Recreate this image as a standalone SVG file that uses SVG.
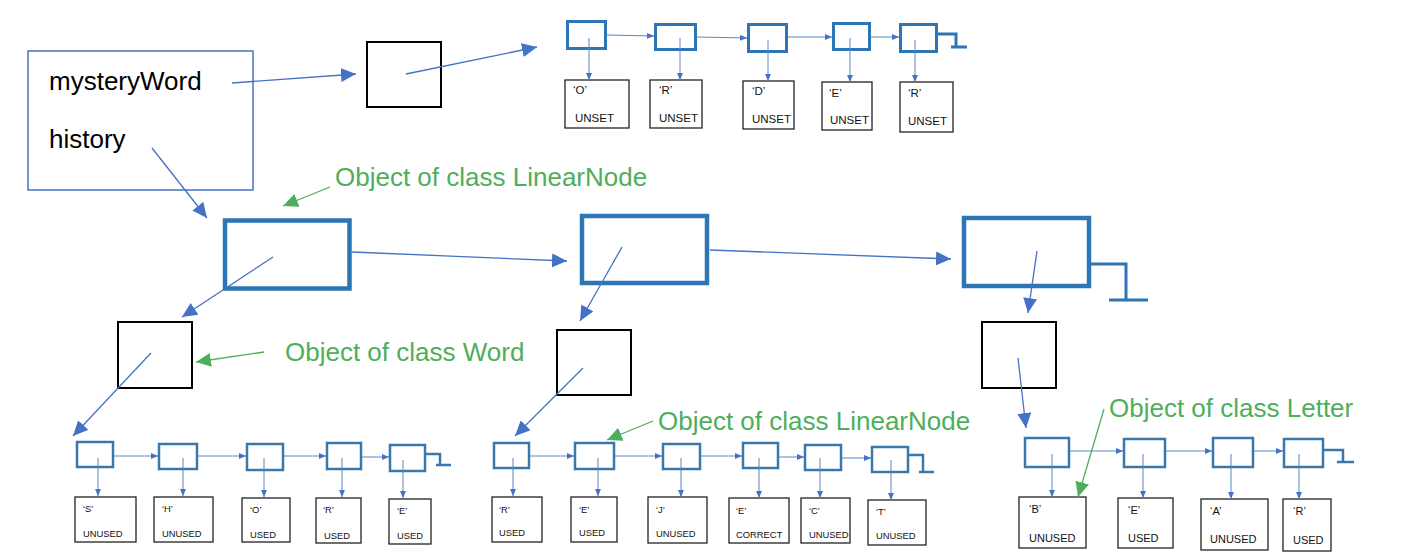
<svg xmlns="http://www.w3.org/2000/svg" width="1416" height="560" viewBox="0 0 1416 560">
<defs>
<marker id="bigB" markerUnits="userSpaceOnUse" markerWidth="16" markerHeight="15" refX="15" refY="7" orient="auto"><path d="M0,0 L15,7 L0,14 z" fill="#4472C4"/></marker>
<marker id="bigG" markerUnits="userSpaceOnUse" markerWidth="16" markerHeight="15" refX="15" refY="7" orient="auto"><path d="M0,0 L15,7 L0,14 z" fill="#4EAE5B"/></marker>
<marker id="smB" markerUnits="userSpaceOnUse" markerWidth="8" markerHeight="7" refX="7" refY="3" orient="auto"><path d="M0,0 L7,3 L0,6 z" fill="#4472C4"/></marker>
</defs>
<style>
.big{font-family:"Liberation Sans",Arial,sans-serif;font-size:26px;fill:#000}
.lbl{font-family:"Liberation Sans",Arial,sans-serif;font-size:26px;fill:#4EAE5B}
.t1{font-family:"Liberation Sans",Arial,sans-serif;font-size:11.5px;fill:#111}
.t2{font-family:"Liberation Sans",Arial,sans-serif;font-size:9.4px;fill:#111}
.t3{font-family:"Liberation Sans",Arial,sans-serif;font-size:11px;fill:#111}
.bn{fill:none;stroke:#2E75B6;stroke-width:4.5}
.sn{fill:none;stroke:#2E75B6;stroke-width:3}
.ln{fill:none;stroke:#3A78AC;stroke-width:2.5}
.wb{fill:none;stroke:#000;stroke-width:2}
.lb{fill:none;stroke:#222;stroke-width:1.3}
.cb{fill:none;stroke:#4472C4;stroke-width:1.3;marker-end:url(#bigB)}
.cs{fill:none;stroke:#5A86C8;stroke-width:1;marker-end:url(#smB)}
.cg{fill:none;stroke:#4EAE5B;stroke-width:1.3;marker-end:url(#bigG)}
.nl{fill:none;stroke:#2E75B6;stroke-width:3}
.nl2{fill:none;stroke:#3A78AC;stroke-width:2.5}
</style>

<g id="game">
<rect x="28" y="51" width="225" height="139" fill="none" stroke="#4472C4" stroke-width="1.5"/>
<text class="big" x="49" y="90">mysteryWord</text>
<text class="big" x="49" y="148">history</text>
</g>

<g id="word-top"><rect class="wb" x="367" y="42" width="74" height="65"/></g>

<g id="top-chain">
<rect class="sn" x="567.5" y="21.5" width="38" height="27"/>
<rect class="sn" x="655.5" y="24.5" width="40" height="25"/>
<rect class="sn" x="748.5" y="24.5" width="38" height="27"/>
<rect class="sn" x="833.5" y="23.5" width="36" height="26"/>
<rect class="sn" x="900.5" y="24.5" width="36" height="27"/>
<path class="nl" d="M938,34 H956 V47 M951,47 H967"/>
</g>

<g id="top-letters">
<rect class="lb" x="565" y="80" width="64" height="48"/>
<text class="t1" x="573" y="94">‘O’</text><text class="t1" x="575" y="122">UNSET</text>
<rect class="lb" x="650" y="80" width="52" height="48"/>
<text class="t1" x="659" y="94">‘R’</text><text class="t1" x="659" y="122">UNSET</text>
<rect class="lb" x="743" y="81" width="51" height="48"/>
<text class="t1" x="752" y="95">‘D’</text><text class="t1" x="752" y="123">UNSET</text>
<rect class="lb" x="822" y="82" width="50" height="48"/>
<text class="t1" x="829" y="97">‘E’</text><text class="t1" x="830" y="124">UNSET</text>
<rect class="lb" x="900" y="82" width="53" height="50"/>
<text class="t1" x="908" y="97">‘R’</text><text class="t1" x="908" y="125">UNSET</text>
</g>

<g id="history-nodes">
<rect class="bn" x="225" y="220.5" width="124.5" height="68"/>
<rect class="bn" x="582" y="216" width="125" height="67"/>
<rect class="bn" x="964" y="218" width="125" height="68"/>
<path class="nl" d="M1091,264 H1126 V300 M1109,300 H1148"/>
</g>

<g id="words">
<rect class="wb" x="118" y="322" width="74" height="66"/>
<rect class="wb" x="557" y="330" width="74" height="65"/>
<rect class="wb" x="982" y="322" width="74" height="66"/>
</g>

<g id="chain1">
<rect class="ln" x="77" y="442" width="36" height="25"/>
<rect class="ln" x="159" y="444" width="38" height="25"/>
<rect class="ln" x="247" y="444" width="36" height="26"/>
<rect class="ln" x="327" y="443" width="34" height="26"/>
<rect class="ln" x="390" y="445" width="35" height="26"/>
<path class="nl2" d="M426,454 H440 V465 M436,465 H451"/>
<rect class="lb" x="75" y="497" width="61" height="45"/>
<text class="t2" x="83" y="512">‘S’</text><text class="t2" x="83" y="537">UNUSED</text>
<rect class="lb" x="154" y="497" width="59" height="45"/>
<text class="t2" x="162" y="512">‘H’</text><text class="t2" x="162" y="537">UNUSED</text>
<rect class="lb" x="242" y="498" width="48" height="44"/>
<text class="t2" x="250" y="513">‘O’</text><text class="t2" x="250" y="538">USED</text>
<rect class="lb" x="316" y="498" width="45" height="45"/>
<text class="t2" x="323" y="513">‘R’</text><text class="t2" x="324" y="539">USED</text>
<rect class="lb" x="389" y="499" width="42" height="45"/>
<text class="t2" x="397" y="514">‘E’</text><text class="t2" x="397" y="539">USED</text>
</g>

<g id="chain2">
<rect class="ln" x="494" y="443" width="35" height="25"/>
<rect class="ln" x="575" y="443" width="39" height="26"/>
<rect class="ln" x="663" y="444" width="37" height="25"/>
<rect class="ln" x="743" y="443" width="35" height="25"/>
<rect class="ln" x="805" y="445" width="36" height="25"/>
<rect class="ln" x="872" y="447" width="36" height="25"/>
<path class="nl2" d="M909,455 H923 V472 M919,472 H934"/>
<rect class="lb" x="492" y="497" width="50" height="45"/>
<text class="t2" x="499" y="513">‘R’</text><text class="t2" x="499" y="536">USED</text>
<rect class="lb" x="571" y="497" width="46" height="45"/>
<text class="t2" x="579" y="513">‘E’</text><text class="t2" x="579" y="536">USED</text>
<rect class="lb" x="648" y="497" width="59" height="46"/>
<text class="t2" x="656" y="513">‘J’</text><text class="t2" x="656" y="537">UNUSED</text>
<rect class="lb" x="729" y="498" width="60" height="45"/>
<text class="t2" x="736" y="514">‘E’</text><text class="t2" x="736" y="538">CORRECT</text>
<rect class="lb" x="801" y="498" width="49" height="45"/>
<text class="t2" x="809" y="514">‘C’</text><text class="t2" x="809" y="538">UNUSED</text>
<rect class="lb" x="868" y="500" width="58" height="45"/>
<text class="t2" x="876" y="515">‘T’</text><text class="t2" x="876" y="539">UNUSED</text>
</g>

<g id="chain3">
<rect class="ln" x="1025" y="438" width="44" height="29"/>
<rect class="ln" x="1124" y="439" width="41" height="28"/>
<rect class="ln" x="1213" y="438" width="40" height="29"/>
<rect class="ln" x="1284" y="439" width="39" height="28"/>
<path class="nl2" d="M1324,450 H1343 V462 M1337,462 H1354"/>
<rect class="lb" x="1019" y="497" width="67" height="51"/>
<text class="t3" x="1029" y="513">‘B’</text><text class="t3" x="1029" y="542">UNUSED</text>
<rect class="lb" x="1118" y="498" width="55" height="50"/>
<text class="t3" x="1128" y="514">‘E’</text><text class="t3" x="1128" y="542">USED</text>
<rect class="lb" x="1201" y="499" width="67" height="51"/>
<text class="t3" x="1210" y="515">‘A’</text><text class="t3" x="1210" y="543">UNUSED</text>
<rect class="lb" x="1283" y="499" width="48" height="52"/>
<text class="t3" x="1293" y="515">‘R’</text><text class="t3" x="1293" y="544">USED</text>
</g>

<g id="labels">
<text class="lbl" x="335" y="186">Object of class LinearNode</text>
<text class="lbl" x="285" y="361">Object of class Word</text>
<text class="lbl" x="658" y="430">Object of class LinearNode</text>
<text class="lbl" x="1109" y="417">Object of class Letter</text>
</g>

<g id="connectors">
<line class="cb" x1="232" y1="83" x2="356" y2="74"/>
<line class="cb" x1="406" y1="74" x2="537" y2="47"/>
<line class="cb" x1="152" y1="148" x2="207" y2="218"/>
<line class="cb" x1="352" y1="252" x2="567" y2="261"/>
<line class="cb" x1="710" y1="250" x2="951" y2="259"/>
<line class="cb" x1="273" y1="257" x2="182" y2="317"/>
<line class="cb" x1="622" y1="247" x2="580" y2="321"/>
<line class="cb" x1="1037" y1="251" x2="1028" y2="313"/>
<line class="cb" x1="151" y1="353" x2="73" y2="436"/>
<line class="cb" x1="583" y1="368" x2="515" y2="436"/>
<line class="cb" x1="1018" y1="358" x2="1026" y2="428"/>
<line class="cs" x1="607" y1="35" x2="654" y2="36"/>
<line class="cs" x1="697" y1="37" x2="747" y2="38"/>
<line class="cs" x1="788" y1="37" x2="832" y2="37"/>
<line class="cs" x1="871" y1="37" x2="899" y2="37"/>
<line class="cs" x1="589" y1="38" x2="589" y2="80"/>
<line class="cs" x1="680" y1="38" x2="680" y2="80"/>
<line class="cs" x1="768" y1="40" x2="768" y2="81"/>
<line class="cs" x1="850" y1="38" x2="850" y2="82"/>
<line class="cs" x1="915" y1="40" x2="915" y2="82"/>
<line class="cs" x1="114" y1="456" x2="158" y2="456"/>
<line class="cs" x1="198" y1="456" x2="246" y2="456"/>
<line class="cs" x1="284" y1="456" x2="326" y2="456"/>
<line class="cs" x1="362" y1="457" x2="389" y2="457"/>
<line class="cs" x1="98" y1="458" x2="98" y2="496"/>
<line class="cs" x1="183" y1="458" x2="183" y2="496"/>
<line class="cs" x1="264" y1="458" x2="264" y2="497"/>
<line class="cs" x1="342" y1="458" x2="342" y2="497"/>
<line class="cs" x1="403" y1="460" x2="403" y2="498"/>
<line class="cs" x1="530" y1="456" x2="574" y2="456"/>
<line class="cs" x1="615" y1="456" x2="662" y2="456"/>
<line class="cs" x1="701" y1="456" x2="742" y2="456"/>
<line class="cs" x1="779" y1="457" x2="804" y2="457"/>
<line class="cs" x1="842" y1="458" x2="871" y2="458"/>
<line class="cs" x1="513" y1="458" x2="513" y2="496"/>
<line class="cs" x1="598" y1="458" x2="598" y2="496"/>
<line class="cs" x1="681" y1="458" x2="681" y2="497"/>
<line class="cs" x1="759" y1="458" x2="759" y2="498"/>
<line class="cs" x1="820" y1="458" x2="820" y2="498"/>
<line class="cs" x1="891" y1="460" x2="891" y2="500"/>
<line class="cs" x1="1070" y1="451" x2="1123" y2="451"/>
<line class="cs" x1="1166" y1="451" x2="1212" y2="451"/>
<line class="cs" x1="1254" y1="451" x2="1283" y2="451"/>
<line class="cs" x1="1052" y1="454" x2="1052" y2="497"/>
<line class="cs" x1="1143" y1="454" x2="1143" y2="498"/>
<line class="cs" x1="1231" y1="454" x2="1231" y2="499"/>
<line class="cs" x1="1299" y1="454" x2="1299" y2="499"/>
<line class="cg" x1="330" y1="187" x2="283" y2="206"/>
<line class="cg" x1="264" y1="352" x2="196" y2="362"/>
<line class="cg" x1="653" y1="421" x2="607" y2="440"/>
<line class="cg" x1="1104" y1="409" x2="1078" y2="497"/>
</g>
</svg>
